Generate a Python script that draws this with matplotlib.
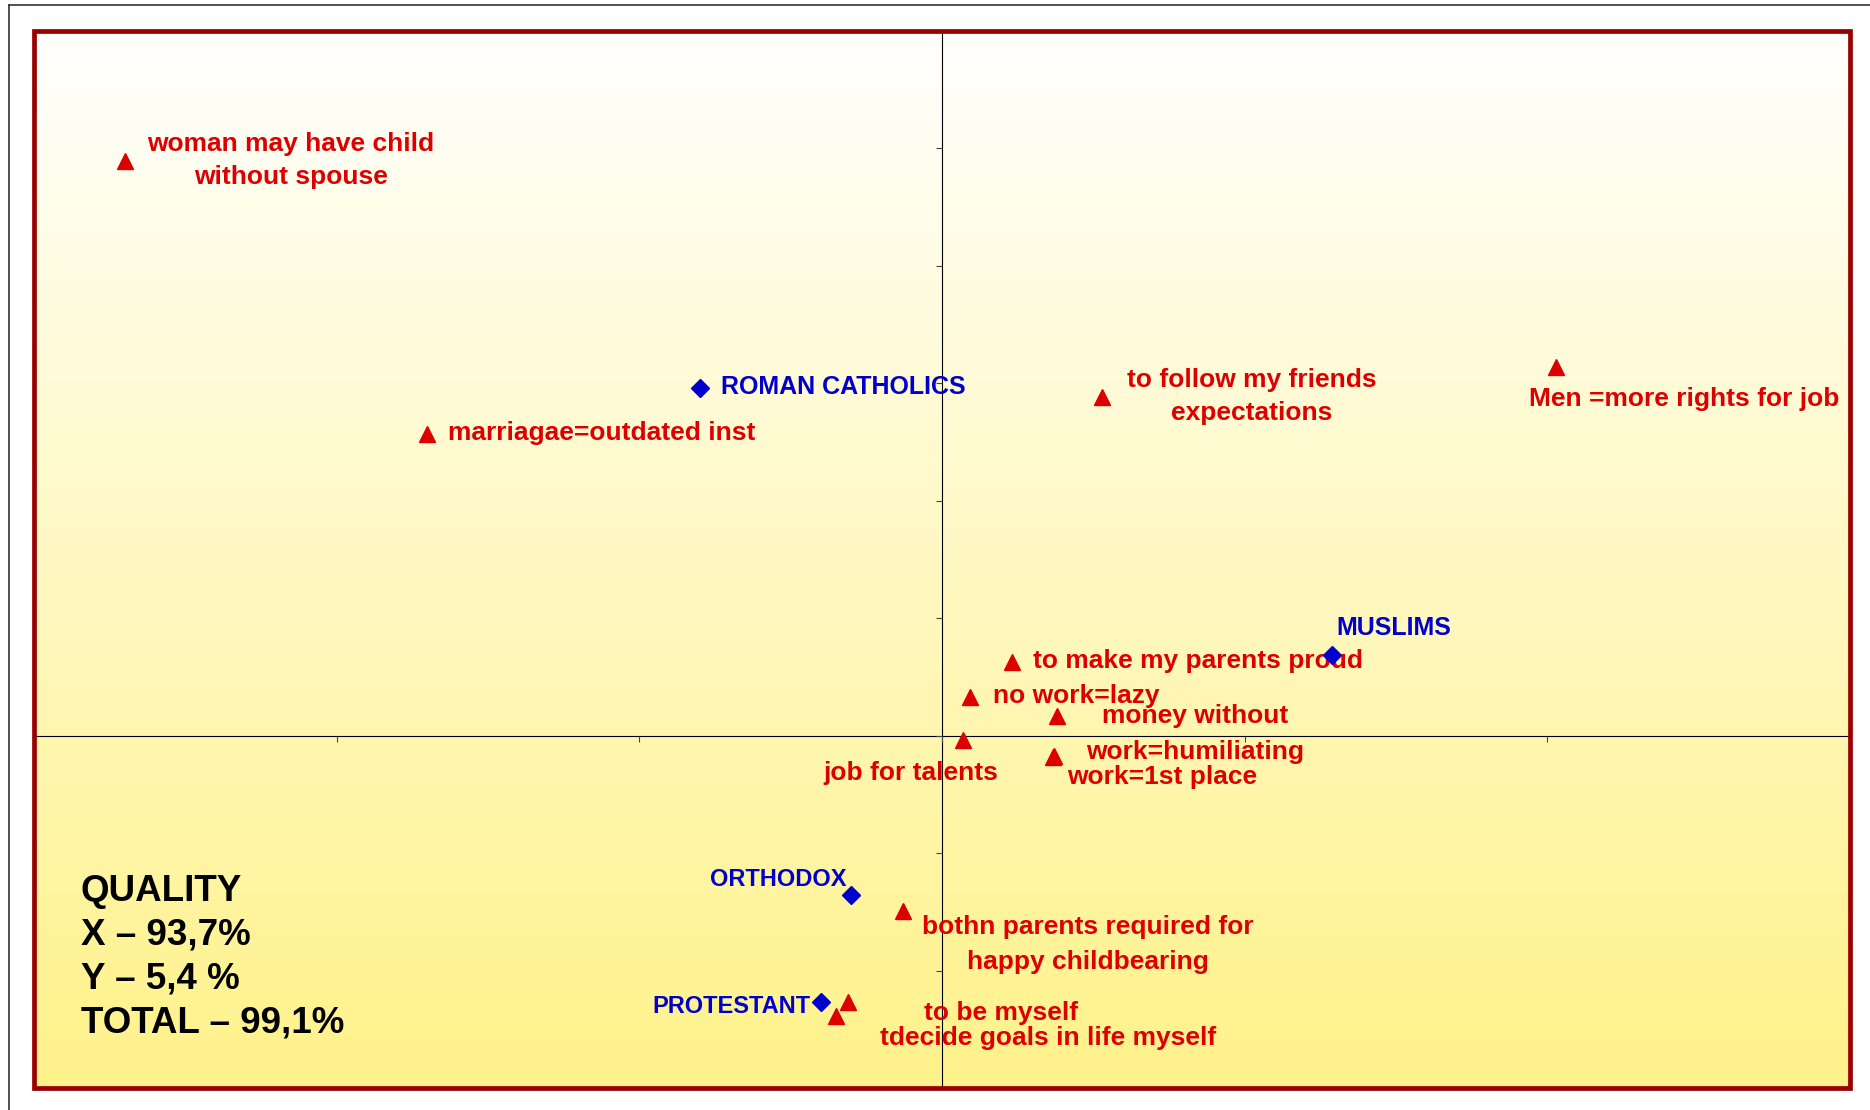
import numpy as np
import matplotlib
matplotlib.use("Agg")
import matplotlib.pyplot as plt
from matplotlib.patches import Rectangle
from matplotlib.lines import Line2D

plt.rcParams["font.family"] = ["Liberation Sans", "DejaVu Sans"]

# statements (red triangles)
red_labels = [
    "woman may have child\nwithout spouse",
    "marriagae=outdated inst",
    "to follow my friends\nexpectations",
    "Men =more rights for job",
    "to make my parents proud",
    "no work=lazy",
    "money without",
    "job for talents",
    "work=humiliating",
    "work=1st place",
    "bothn parents required for\nhappy childbearing",
    "to be myself",
    "tdecide goals in life myself",
]
red_x = [-1.35, -0.85, 0.265, 1.015, 0.115, 0.047, 0.19, 0.035, 0.185, 0.184, -0.065, -0.155, -0.175]
red_y = [0.489, 0.257, 0.288, 0.314, 0.063, 0.033, 0.017, -0.004, -0.017, -0.018, -0.149, -0.227, -0.239]

# religious groups (blue diamonds)
blue_labels = ["ROMAN CATHOLICS", "MUSLIMS", "ORTHODOX", "PROTESTANT"]
blue_x = [-0.40, 0.645, -0.15, -0.20]
blue_y = [0.296, 0.069, -0.136, -0.227]

quality_text = "QUALITY\nX \u2013 93,7%\nY \u2013 5,4 %\nTOTAL \u2013 99,1%"

# label placement (pixel offsets from marker, alignment, line spacing)
red_offsets = [(166, 1, "center", 1.45), (21, 1, "left", 1.2), (149, 1, "center", 1.45),
               (128, -32, "center", 1.2), (21, 1, "left", 1.2), (23, 1, "left", 1.2),
               (45, 0, "left", 1.2), (-52, -33, "center", 1.2), (32, 4, "left", 1.2),
               (14, -20, "left", 1.2), (185, -34, "center", 1.55), (76, -11, "left", 1.2),
               (44, -22, "left", 1.2)]
blue_offsets = [(21, 1, "left"), (4, 27, "left"), (-5, 16, "right"), (-10, -4, "right")]
blue_sizes = [18, 18, 17, 17]

RED = "#dd0000"
BLUE = "#0000cc"

W, H = 1870, 1110
fig = plt.figure(figsize=(W / 100, H / 100), dpi=100)
fig.patch.set_facecolor("white")

# outer thin border (left and top)
fig.add_artist(Line2D([9 / W, 9 / W], [0, 1 - 5 / H], color="#333333", lw=1.2))
fig.add_artist(Line2D([9 / W, 1], [1 - 5 / H, 1 - 5 / H], color="#333333", lw=1.2))

left, right, top, bottom = 34, 1850, 31, 1088
ax = fig.add_axes([left / W, (H - bottom) / H, (right - left) / W, (bottom - top) / H])
ax.set_xlim(-1.5, 1.5)
ax.set_ylim(-0.3, 0.6)

# vertical gradient background
top_c = np.array([255, 255, 253]) / 255
bot_c = np.array([255, 242, 138]) / 255
t = np.linspace(0, 1, 256)[:, None]
grad = (top_c[None, :] * (1 - t) + bot_c[None, :] * t)[:, None, :]
ax.imshow(grad, extent=(-1.5, 1.5, -0.3, 0.6), aspect="auto", zorder=0, origin="upper")

# axes through origin
for s in ["top", "right"]:
    ax.spines[s].set_visible(False)
ax.spines["left"].set_position(("data", 0))
ax.spines["bottom"].set_position(("data", 0))
for s in ["left", "bottom"]:
    ax.spines[s].set_color("black")
    ax.spines[s].set_linewidth(0.8)
    ax.spines[s].set_zorder(1)
ax.set_xticks(np.arange(-1.5, 1.51, 0.5))
ax.set_yticks(np.arange(-0.3, 0.61, 0.1))
ax.tick_params(direction="out", length=4, width=0.8, color="#444444",
               labelbottom=False, labelleft=False)

# dark red frame
ax.add_patch(Rectangle((0, 0), 1, 1, transform=ax.transAxes, fill=False,
                       edgecolor="#990000", lw=3.4, zorder=6, clip_on=False))

ax.plot(red_x, red_y, linestyle="none", marker="^", ms=11, color=RED, zorder=3)
ax.plot(blue_x, blue_y, linestyle="none", marker="D", ms=9, color=BLUE, zorder=5)

for lab, x, y, (dx, dy, ha, ls) in zip(red_labels, red_x, red_y, red_offsets):
    ax.annotate(lab, (x, y), xytext=(dx, dy), textcoords="offset pixels",
                ha=ha, va="center", multialignment="center", linespacing=ls,
                fontsize=19, fontweight="bold", color=RED, zorder=4)

for lab, x, y, (dx, dy, ha), fs in zip(blue_labels, blue_x, blue_y, blue_offsets, blue_sizes):
    ax.annotate(lab, (x, y), xytext=(dx, dy), textcoords="offset pixels",
                ha=ha, va="center", fontsize=fs, fontweight="bold", color=BLUE, zorder=4)

fig.text(81 / W, 1 - 957 / H, quality_text, ha="left", va="center", fontsize=26.5,
         fontweight="bold", color="black", linespacing=1.33)

fig.savefig("out.png", dpi=100, facecolor="white")
